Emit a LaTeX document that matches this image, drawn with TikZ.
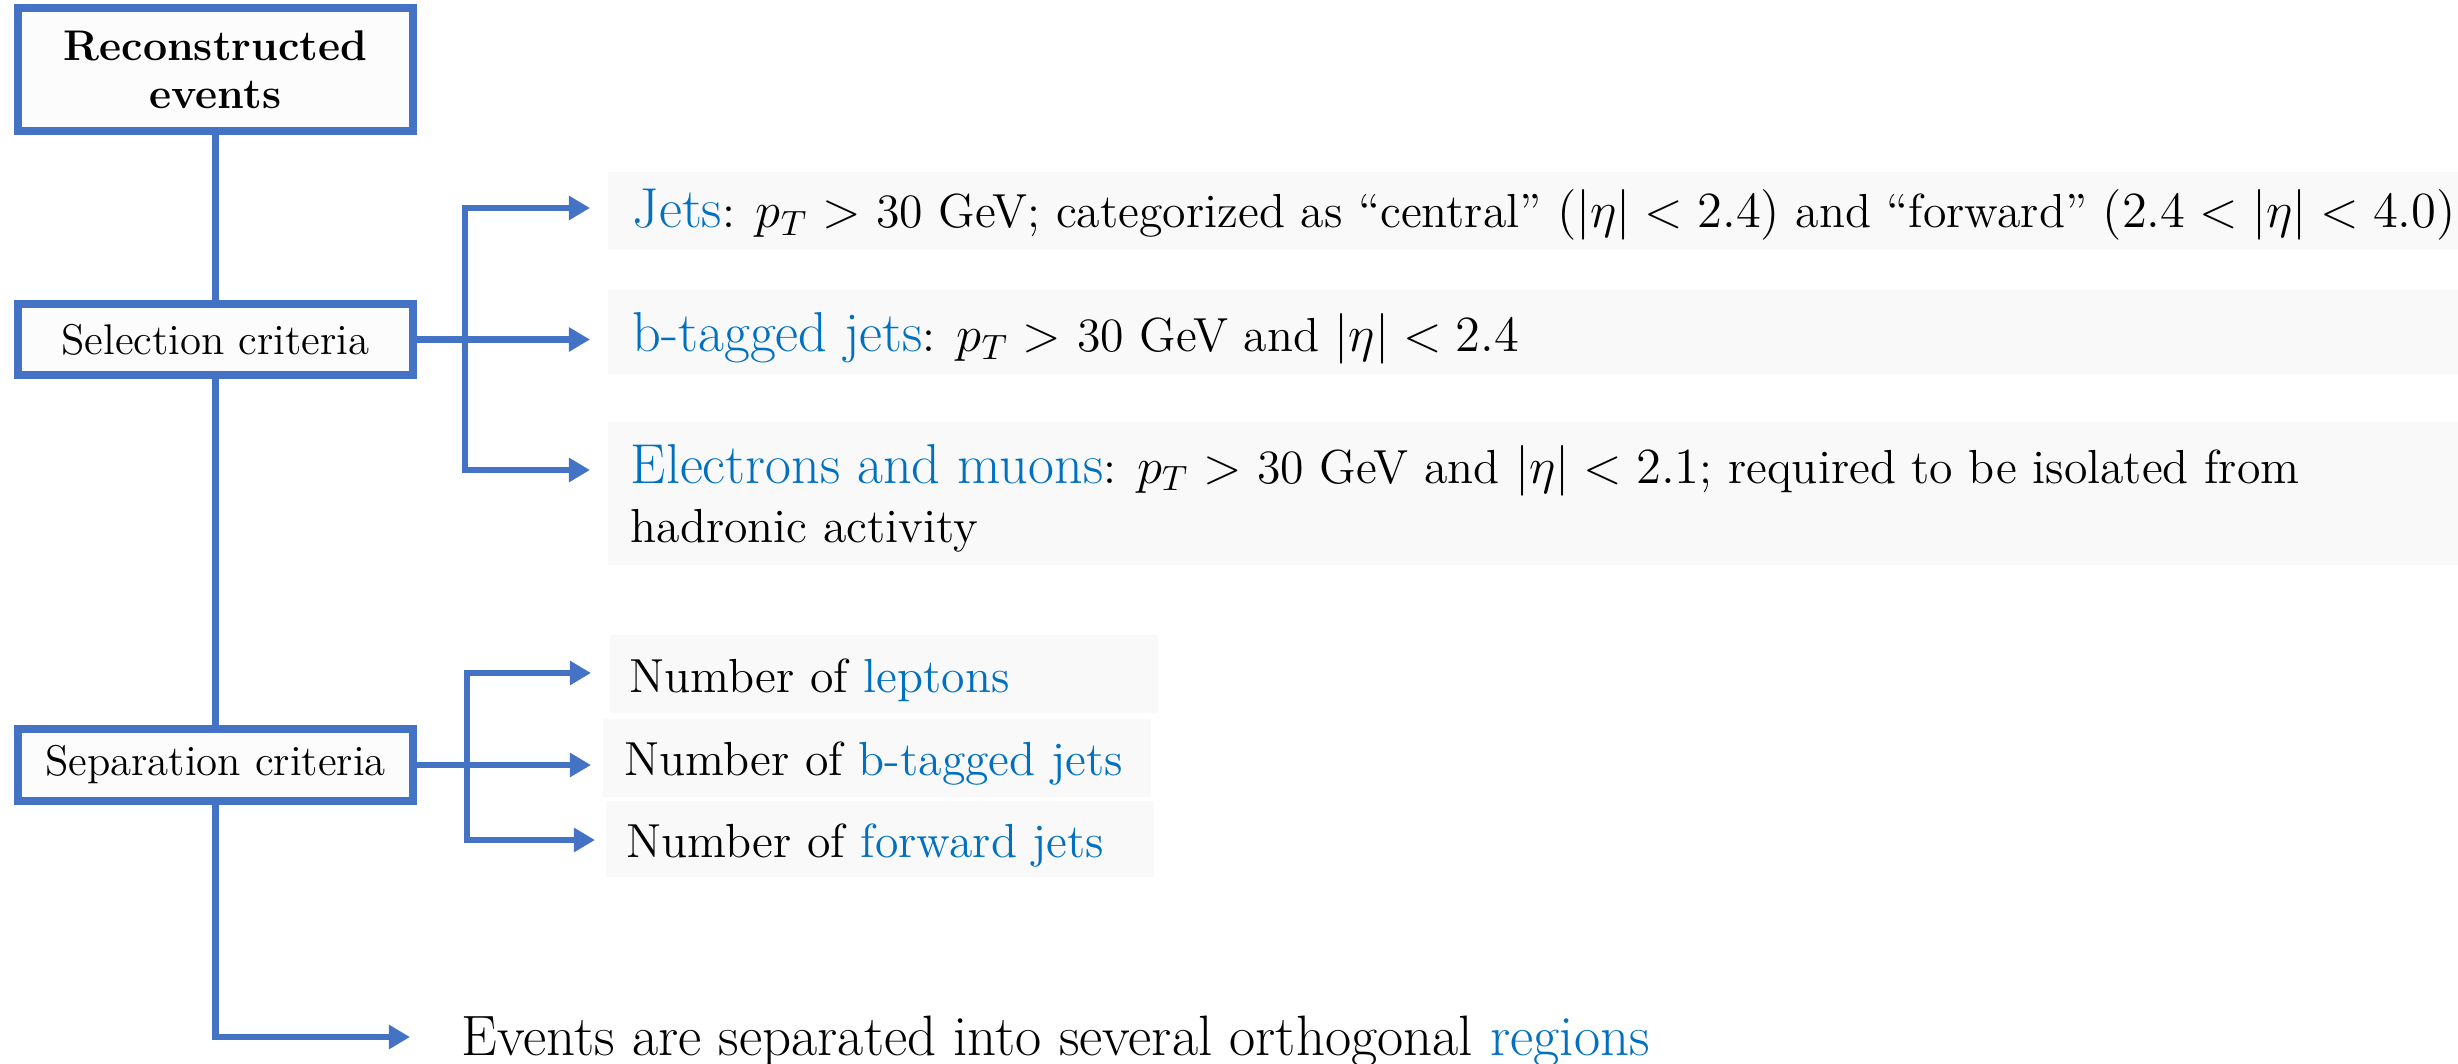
\documentclass[tikz,border=0pt]{standalone}
\usepackage{fontspec}
\usepackage{amsmath}
\usetikzlibrary{arrows.meta}

\definecolor{flowblue}{HTML}{4472C4}
\definecolor{labelblue}{HTML}{0070C0}
\definecolor{panelgray}{HTML}{F9F9F9}
\definecolor{boxfill}{HTML}{FCFCFC}

\newcommand{\hl}[1]{\textcolor{labelblue}{#1}}
\newcommand{\bodysize}{\fontsize{13.6}{16.8}\selectfont}
\newcommand{\labsize}{\fontsize{16}{16.8}\selectfont}

\begin{document}
\begin{tikzpicture}[x=0.01cm,y=-0.01cm,
  stage/.style={draw=flowblue, line width=2.3pt, fill=boxfill,
    minimum width=3.95cm, inner sep=0pt, align=center,
    font=\fontsize{12.2}{13.7}\selectfont},
  flow/.style={draw=flowblue, line width=1.9pt},
  flowarrow/.style={flow, -{Triangle[length=6pt,width=6.6pt]}},
  panel/.style={fill=panelgray, draw=none, inner sep=0pt},
  txt/.style={anchor=base west, inner sep=0pt, font=\bodysize}]
\useasboundingbox (0,0) rectangle (2458,1064);

% stages of the event flow
\node[stage, minimum height=1.23cm,
      font=\fontsize{12.2}{13.7}\selectfont\bfseries] (recon) at (215.5,69.5) {Reconstructed\\events};
\node[stage, minimum height=0.71cm] (sel) at (215.5,339.5) {Selection criteria};
\node[stage, minimum height=0.72cm] (sep) at (215.5,765) {Separation criteria};

% shaded panels behind the criteria
\node[panel, minimum width=18.49cm, minimum height=0.77cm] (jetsbg) at (1533.5,210.5) {};
\node[panel, minimum width=18.49cm, minimum height=0.84cm] (btagbg) at (1533.5,332) {};
\node[panel, minimum width=18.49cm, minimum height=1.43cm] (elbg) at (1533.5,493.5) {};
\node[panel, minimum width=5.48cm, minimum height=0.78cm] (lepbg) at (884,674) {};
\node[panel, minimum width=5.48cm, minimum height=0.78cm] (nbtbg) at (877,758) {};
\node[panel, minimum width=5.48cm, minimum height=0.76cm] (fwdbg) at (880,839) {};

% selection criteria
\node[txt] (jets) at (632,228) {{\labsize\hl{Jets}}: $p_T > $ 30 GeV; categorized as “central” $(|\eta| < 2.4)$ and “forward” $(2.4 < |\eta| < 4.0)$};
\node[txt] (btag) at (632,352) {{\labsize\hl{b-tagged jets}}: $p_T >$ 30 GeV and $|\eta| < 2.4$};
\node[txt] (el) at (630,483) {{\labsize\hl{Electrons and muons}}: $p_T >$ 30 GeV and $|\eta| < 2.1$; required to be isolated from};
\node[txt] (el2) at (630,542) {hadronic activity};

% separation criteria
\node[txt] (lep) at (629,692) {Number of \hl{leptons}};
\node[txt] (nbt) at (624,775) {Number of \hl{b-tagged jets}};
\node[txt] (fwd) at (626,857) {Number of \hl{forward jets}};

% outcome
\node[txt, font=\fontsize{16.2}{18}\selectfont] (regions) at (461,1055) {Events are separated into several orthogonal \hl{regions}};

% main spine
\draw[flow] (recon.south) -- (sel.north);
\draw[flow] (sel.south) -- (sep.north);
\coordinate (corner) at (215.5,1037);
\coordinate (regtip) at (410,1037);
\draw[flowarrow] (sep.south) -- (corner) -- (regtip);

% selection fork
\coordinate (selhub) at (465,339.5);
\coordinate (jetsfork) at (465,208);
\coordinate (elfork) at (465,470);
\coordinate (jetstip) at (590,208);
\coordinate (btagtip) at (590,339.5);
\coordinate (eltip) at (590,470);
\draw[flow] (sel.east) -- (selhub);
\draw[flowarrow] (elfork) -- (jetsfork) -- (jetstip);
\draw[flowarrow] (jetsfork) -- (elfork) -- (eltip);
\draw[flowarrow] (selhub) -- (btagtip);

% separation fork
\coordinate (sephub) at (467,765);
\coordinate (lepfork) at (467,673);
\coordinate (fwdfork) at (467,840);
\coordinate (leptip) at (591,673);
\coordinate (nbttip) at (591,765);
\coordinate (fwdtip) at (595,840);
\draw[flow] (sep.east) -- (sephub);
\draw[flowarrow] (fwdfork) -- (lepfork) -- (leptip);
\draw[flowarrow] (lepfork) -- (fwdfork) -- (fwdtip);
\draw[flowarrow] (sephub) -- (nbttip);
\end{tikzpicture}
\end{document}
